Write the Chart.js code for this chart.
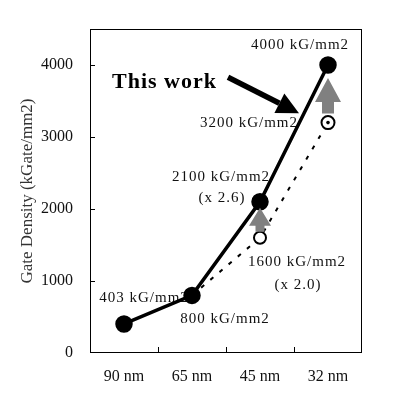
<!DOCTYPE html>
<html>
<head>
<meta charset="utf-8">
<script src="https://cdn.jsdelivr.net/npm/chart.js@4"></script>
<style>
  body { margin: 0; background: #fff; }
  canvas { display: block; }
</style>
</head>
<body>
<canvas id="chart" width="394" height="397"></canvas>
<script>
// data
const nodes = ['90 nm', '65 nm', '45 nm', '32 nm'];
const thisWork = [403, 800, 2100, 4000];
const scaling = [null, 800, 1600, 3200];
const yTicks = [0, 1000, 2000, 3000, 4000];
const labelTexts = ['4000 kG/mm2', '3200 kG/mm2', '2100 kG/mm2', '(x 2.6)',
                    '1600 kG/mm2', '(x 2.0)', '403 kG/mm2', '800 kG/mm2'];
const arrowNodes = ['45 nm', '32 nm'];

const serif = '"Liberation Serif", "Times New Roman", serif';

// where each label sits: node index, value anchor, pixel nudge
const labelPos = [
  { i: 3, v: 4000, dx: -28, dy: -20, align: 'center' },
  { i: 3, v: 3200, dx: -30, dy: 0, align: 'right' },
  { i: 2, v: 2100, dx: -39, dy: -25, align: 'center' },
  { i: 2, v: 2100, dx: -38, dy: -4, align: 'center' },
  { i: 2, v: 1600, dx: 37, dy: 24, align: 'center' },
  { i: 2, v: 1600, dx: 38, dy: 47, align: 'center' },
  { i: 0, v: 403, dx: 20, dy: -26, align: 'center' },
  { i: 1, v: 800, dx: 33, dy: 24, align: 'center' }
];
// gray arrow shapes, per node in arrowNodes
const arrowShape = [
  { bottom: -6, tip: 6, head: 18, hw: 11, sw: 4.5 },
  { bottom: -9, tip: 13, head: 24, hw: 13, sw: 6 }
];

const decor = {
  id: 'decor',
  beforeDatasetsDraw(chart) {
    const ctx = chart.ctx, x = chart.scales.x, y = chart.scales.y, a = chart.chartArea;
    ctx.save();
    // frame
    ctx.strokeStyle = '#000';
    ctx.lineWidth = 1;
    ctx.strokeRect(a.left + 0.5, a.top + 0.5, a.right - a.left - 1, a.bottom - a.top - 1);
    // inward tick marks
    ctx.beginPath();
    yTicks.forEach(t => {
      const py = Math.round(y.getPixelForValue(t)) + 0.5;
      if (t > 0) { ctx.moveTo(a.left, py); ctx.lineTo(a.left + 5, py); }
    });
    for (let i = 1; i < nodes.length; i++) {
      const px = Math.round((x.getPixelForTick(i - 1) + x.getPixelForTick(i)) / 2) + 0.5;
      ctx.moveTo(px, a.bottom); ctx.lineTo(px, a.bottom - 6);
    }
    ctx.stroke();
    // value labels
    ctx.fillStyle = '#111';
    ctx.font = '15px ' + serif;
    ctx.letterSpacing = '1px';
    ctx.textBaseline = 'middle';
    labelTexts.forEach((txt, k) => {
      const p = labelPos[k];
      ctx.textAlign = p.align;
      ctx.fillText(txt, x.getPixelForTick(p.i) + p.dx, y.getPixelForValue(p.v) + p.dy);
    });
    // "This work" caption
    ctx.letterSpacing = '1px';
    ctx.font = 'bold 22px ' + serif;
    ctx.textAlign = 'left';
    ctx.fillStyle = '#000';
    ctx.fillText('This work', x.getPixelForTick(0) - 12, y.getPixelForValue(3760));
    ctx.restore();
  },
  afterDatasetsDraw(chart) {
    const ctx = chart.ctx, x = chart.scales.x, y = chart.scales.y;
    ctx.save();
    // gray arrows from the projected value up to this work
    ctx.fillStyle = '#808080';
    arrowNodes.forEach((n, k) => {
      const i = nodes.indexOf(n), s = arrowShape[k];
      const cx = x.getPixelForTick(i);
      const bottom = y.getPixelForValue(scaling[i]) + s.bottom;
      const tip = y.getPixelForValue(thisWork[i]) + s.tip;
      ctx.beginPath();
      ctx.moveTo(cx - s.sw, bottom);
      ctx.lineTo(cx - s.sw, tip + s.head);
      ctx.lineTo(cx - s.hw, tip + s.head);
      ctx.lineTo(cx, tip);
      ctx.lineTo(cx + s.hw, tip + s.head);
      ctx.lineTo(cx + s.sw, tip + s.head);
      ctx.lineTo(cx + s.sw, bottom);
      ctx.closePath();
      ctx.fill();
    });
    // dot inside the 32 nm open marker
    ctx.fillStyle = '#000';
    ctx.beginPath();
    ctx.arc(x.getPixelForTick(3), y.getPixelForValue(scaling[3]), 1.8, 0, Math.PI * 2);
    ctx.fill();
    // black "This work" arrow
    const sx = x.getPixelForTick(2) - 32, sy = y.getPixelForValue(3830);
    const ex = x.getPixelForTick(2) + 39, ey = y.getPixelForValue(3330);
    const ang = Math.atan2(ey - sy, ex - sx);
    const hl = 22, hw2 = 11;
    const bx = ex - hl * Math.cos(ang), by = ey - hl * Math.sin(ang);
    ctx.strokeStyle = '#000';
    ctx.lineWidth = 5.5;
    ctx.beginPath();
    ctx.moveTo(sx, sy);
    ctx.lineTo(bx, by);
    ctx.stroke();
    ctx.beginPath();
    ctx.moveTo(ex, ey);
    ctx.lineTo(bx + hw2 * Math.sin(ang), by - hw2 * Math.cos(ang));
    ctx.lineTo(bx - hw2 * Math.sin(ang), by + hw2 * Math.cos(ang));
    ctx.closePath();
    ctx.fill();
    ctx.restore();
  }
};

new Chart(document.getElementById('chart'), {
  type: 'line',
  data: {
    labels: nodes,
    datasets: [
      {
        label: 'This work',
        data: thisWork,
        borderColor: '#000',
        backgroundColor: '#000',
        borderWidth: 3.5,
        pointRadius: 7,
        pointBackgroundColor: '#000',
        pointBorderColor: '#000',
        tension: 0
      },
      {
        label: 'Scaling',
        data: scaling,
        borderColor: '#000',
        borderWidth: 2,
        borderDash: [4, 8],
        pointRadius: [0, 0, 6, 6.5],
        pointBackgroundColor: '#fff',
        pointBorderColor: '#000',
        pointBorderWidth: 2,
        tension: 0
      }
    ]
  },
  options: {
    responsive: false,
    animation: false,
    layout: { padding: { top: 29, right: 32, left: 0, bottom: 0 } },
    plugins: { legend: { display: false }, tooltip: { enabled: false } },
    scales: {
      x: {
        offset: true,
        grid: { display: false },
        border: { display: false },
        ticks: { color: '#111', font: { family: serif, size: 16 }, padding: 6, maxRotation: 0 },
        afterFit(s) { s.height = 44; }
      },
      y: {
        min: 0,
        max: 4500,
        grid: { display: false },
        border: { display: false },
        ticks: {
          color: '#111',
          font: { family: serif, size: 16 },
          padding: 9,
          callback: v => String(v)
        },
        afterBuildTicks(s) { s.ticks = yTicks.map(v => ({ value: v })); },
        title: {
          display: true,
          text: 'Gate Density (kGate/mm2)',
          color: '#333',
          font: { family: serif, size: 17 },
          padding: { top: 17, bottom: 0 }
        },
        afterFit(s) { s.width = 90; }
      }
    }
  },
  plugins: [decor]
});
</script>
</body>
</html>
